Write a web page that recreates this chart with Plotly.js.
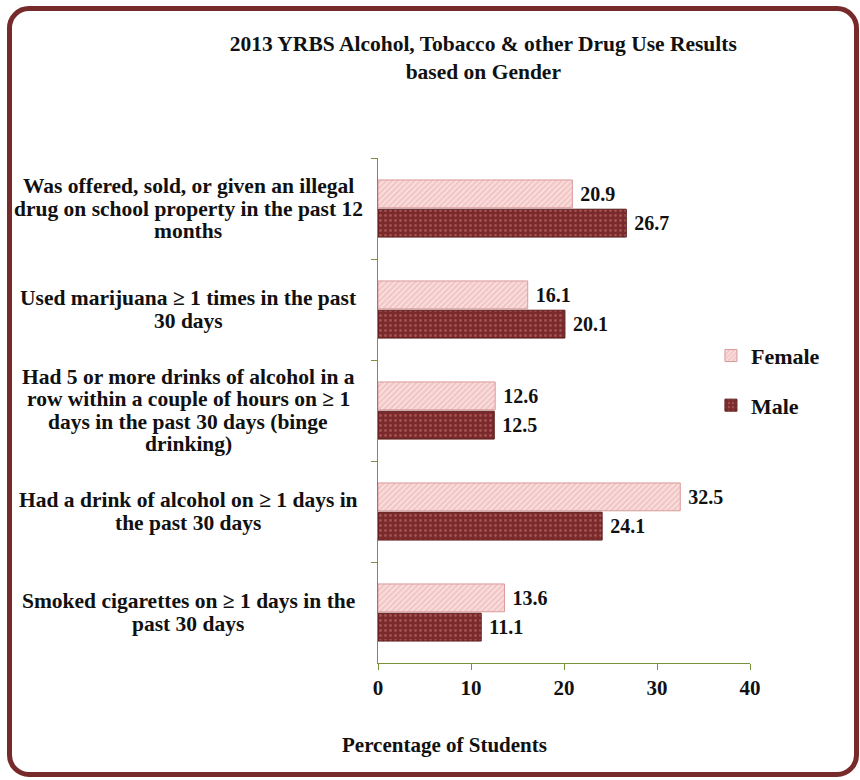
<!DOCTYPE html>
<html>
<head>
<meta charset="utf-8">
<script src="https://cdn.plot.ly/plotly-3.0.1.min.js"></script>
<style>
  body { margin: 0; background: #ffffff; }
  #chart { position: absolute; left: 0; top: 0; width: 860px; height: 780px; }
  #frame { position: absolute; left: 7px; top: 6px; width: 852px; height: 771px; box-sizing: border-box;
           border: 5px solid #772a2a; border-radius: 22px; pointer-events: none; }
</style>
</head>
<body>
<div id="chart"></div>
<div id="frame"></div>
<script>
const categories = [
  "Was offered, sold, or given an illegal<br>drug on school property in the past 12<br>months",
  "Used marijuana \u2265 1 times in the past<br>30 days",
  "Had 5 or more drinks of alcohol in a<br>row within a couple of hours on \u2265 1<br>days in the past 30 days (binge<br>drinking)",
  "Had a drink of alcohol on \u2265 1 days in<br>the past 30 days",
  "Smoked cigarettes on \u2265 1 days in the<br>past 30 days"
];
const categoryKeys = ["c1", "c2", "c3", "c4", "c5"];
const femaleValues = [20.9, 16.1, 12.6, 32.5, 13.6];
const maleValues = [26.7, 20.1, 12.5, 24.1, 11.1];
const xTicks = [0, 10, 20, 30, 40];

const fontFam = "Liberation Serif, Times New Roman, serif";

const traces = [
  {
    type: "bar", orientation: "h", name: "<b>Female</b>", legendgroup: "f",
    y: categoryKeys, x: femaleValues,
    text: femaleValues.map(v => "\u2005<b>" + v.toFixed(1) + "</b>"),
    textposition: "outside", cliponaxis: false,
    textfont: { family: fontFam, size: 20, color: "#111" },
    marker: { color: "#f3c6c6", line: { color: "#d99a9a", width: 1 },
              pattern: { shape: "/", bgcolor: "#f3c6c6", fgcolor: "#fbe6e6", size: 4, solidity: 0.35 } },
    hoverinfo: "x"
  },
  {
    type: "bar", orientation: "h", name: "<b>Male</b>", legendgroup: "m",
    y: categoryKeys, x: maleValues,
    text: maleValues.map(v => "\u2005<b>" + v.toFixed(1) + "</b>"),
    textposition: "outside", cliponaxis: false,
    textfont: { family: fontFam, size: 20, color: "#111" },
    marker: { color: "#7a2a2a", line: { color: "#5a1a1a", width: 1 },
              pattern: { shape: ".", bgcolor: "#7a2a2a", fgcolor: "#a25252", size: 5, solidity: 0.25 } },
    hoverinfo: "x"
  }
];

// category labels: one annotation per line so the line spacing can match
const lineStep = 22.5;
const annotations = [];
categoryKeys.forEach((k, i) => {
  const lines = categories[i].split("<br>");
  const mid = (lines.length - 1) / 2;
  lines.forEach((ln, j) => {
    annotations.push({
      xref: "paper", yref: "y", x: -0.51, y: k, xanchor: "center", yanchor: "middle",
      yshift: (mid - j) * lineStep,
      text: "<b>" + ln + "</b>", showarrow: false,
      font: { family: fontFam, size: 21.5, color: "#111" }
    });
  });
});
annotations.push({
  xref: "paper", yref: "paper", x: 0.18, y: -0.162, xanchor: "center", yanchor: "middle",
  text: "<b>Percentage of Students</b>", showarrow: false,
  font: { family: fontFam, size: 21, color: "#111" }
});

const layout = {
  width: 860, height: 780,
  margin: { l: 378, r: 110, t: 158, b: 117 },
  paper_bgcolor: "rgba(0,0,0,0)", plot_bgcolor: "rgba(0,0,0,0)",
  font: { family: fontFam, color: "#111" },
  title: {
    text: "<b>2013 YRBS Alcohol, Tobacco &amp; other Drug Use Results<br>based on Gender</b>",
    xref: "container", x: 0.562, xanchor: "center",
    yref: "container", y: 0.934, yanchor: "middle",
    font: { family: fontFam, size: 21.5, color: "#111" }
  },
  barmode: "group", bargap: 0.42, bargroupgap: 0.05,
  xaxis: {
    range: [0, 40], tickvals: xTicks, ticktext: xTicks.map(v => "<b>" + v + "</b>"),
    showgrid: false, zeroline: false, showline: true, linecolor: "#77933c", linewidth: 1,
    ticks: "outside", ticklen: 6, tickcolor: "#77933c",
    tickfont: { family: fontFam, size: 21, color: "#111" },
    fixedrange: true
  },
  yaxis: {
    type: "category", categoryorder: "array", categoryarray: categoryKeys,
    autorange: "reversed", showticklabels: false, showgrid: false, zeroline: false,
    showline: true, linecolor: "#77933c", linewidth: 1,
    ticks: "outside", ticklen: 6, tickcolor: "#77933c", tickson: "boundaries",
    fixedrange: true
  },
  showlegend: true,
  legend: {
    x: 0.895, xanchor: "left", y: 0.65, yanchor: "top",
    bgcolor: "rgba(0,0,0,0)", tracegroupgap: 18, traceorder: "grouped",
    font: { family: fontFam, size: 22, color: "#111" }
  },
  annotations: annotations
};

Plotly.newPlot("chart", traces, layout, { displayModeBar: false, staticPlot: true });
</script>
</body>
</html>
